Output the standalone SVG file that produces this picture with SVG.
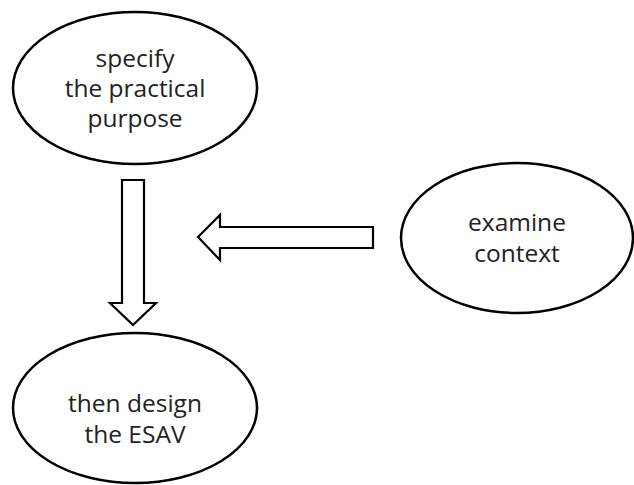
<svg xmlns="http://www.w3.org/2000/svg" width="634" height="485" viewBox="0 0 634 485">
<style>
.node ellipse{fill:#fff;stroke:#000;stroke-width:2.5}
.node text{font-family:"Open Sans","Noto Sans",sans-serif;font-size:24.5px;font-weight:500;fill:#222;text-anchor:middle}
.conn path{fill:#fff;stroke:#000;stroke-width:2.2;stroke-linejoin:miter}
</style>
<rect width="634" height="485" fill="#fff"/>
<g id="purpose" class="node">
<ellipse cx="135" cy="88" rx="122" ry="76"/>
<text x="135" y="67">specify</text>
<text x="135" y="97">the practical</text>
<text x="135" y="127">purpose</text>
</g>
<g id="context" class="node">
<ellipse cx="517" cy="238" rx="116" ry="75"/>
<text x="517" y="231">examine</text>
<text x="517" y="262">context</text>
</g>
<g id="design" class="node">
<ellipse cx="135" cy="408" rx="122" ry="75"/>
<text x="135" y="412">then design</text>
<text x="135" y="443">the ESAV</text>
</g>
<g id="connectors" class="conn">
<path d="M122,180 L144,180 L144,303 L156,303 L133,325 L110,303 L122,303 Z"/>
<path d="M373,227 L373,248 L220,248 L220,260 L198,237 L220,215 L220,227 Z"/>
</g>
</svg>
